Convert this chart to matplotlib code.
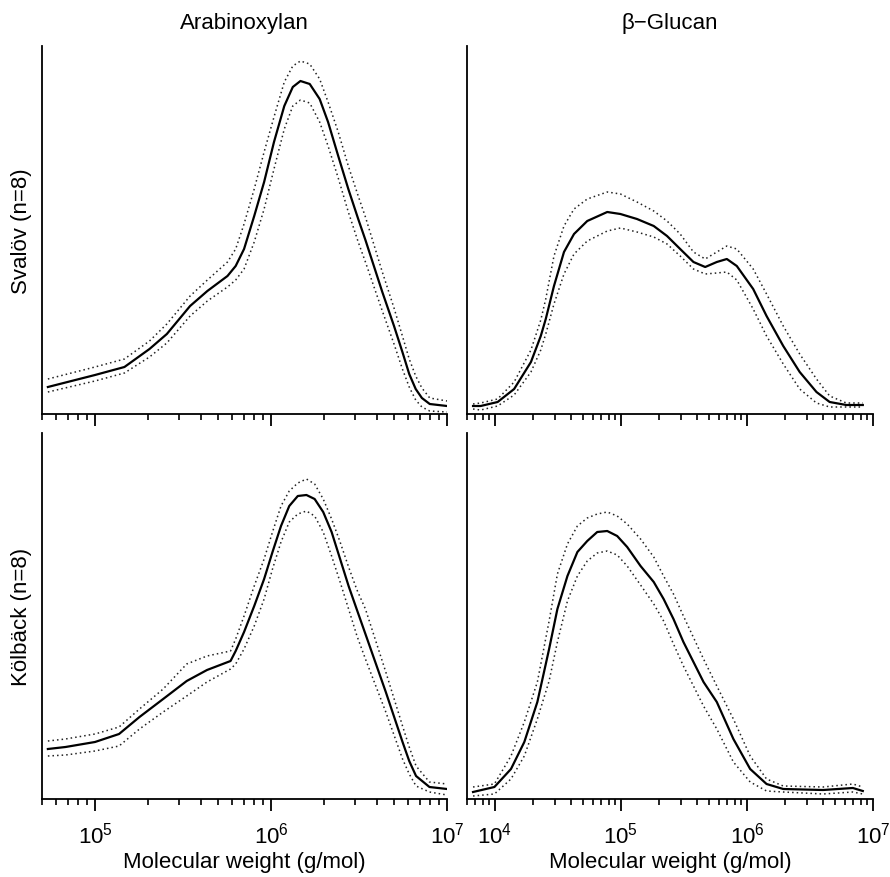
import matplotlib
matplotlib.use("Agg")
import matplotlib.pyplot as plt
import numpy as np
from matplotlib.ticker import LogLocator, LogFormatterSciNotation, NullFormatter

plt.rcParams['font.family'] = ['Liberation Sans', 'DejaVu Sans']
plt.rcParams['mathtext.default'] = 'regular'

# Arabinoxylan, Svalov: molecular weight (g/mol) and detector response (mean, mean+sd, mean-sd)
ax_sv_mw = [5.4e4, 1.0e5, 1.47e5, 2.04e5, 2.56e5, 3.47e5, 4.35e5, 5.66e5, 6.3e5, 7.03e5,
            8.03e5, 9.14e5, 1.04e6, 1.19e6, 1.33e6, 1.47e6, 1.66e6, 1.89e6, 2.11e6,
            2.41e6, 2.75e6, 3.13e6, 3.44e6, 4.29e6, 5.0e6, 5.58e6, 6.1e6, 6.64e6, 7.2e6,
            7.98e6, 1.0e7]
ax_sv_mean = [27, 39, 47, 65, 80, 108, 123, 138, 148, 165, 198, 232, 272, 308, 327, 333,
              330, 315, 292, 258, 225, 195, 174, 122, 88, 62, 40, 25, 16, 10, 8]
ax_sv_hi = [35, 47, 55, 73, 90, 118, 134, 152, 165, 190, 225, 262, 297, 332, 348, 353,
            350, 335, 312, 282, 248, 218, 197, 142, 106, 78, 55, 38, 26, 16, 13]
ax_sv_lo = [22, 33, 41, 57, 71, 98, 113, 127, 134, 145, 172, 205, 245, 285, 308, 314,
            311, 292, 268, 236, 202, 172, 152, 103, 70, 45, 27, 14, 7, 3, 2]

# Arabinoxylan, Kolback
ax_kb_mw = [5.4e4, 6.8e4, 1.0e5, 1.37e5, 1.79e5, 2.44e5, 3.32e5, 4.33e5, 5.89e5, 6.3e5,
            7.03e5, 8.03e5, 9.14e5, 1.02e6, 1.14e6, 1.27e6, 1.42e6, 1.59e6, 1.77e6,
            1.98e6, 2.21e6, 2.47e6, 2.76e6, 3.08e6, 3.44e6, 4.49e6, 5.59e6, 6.1e6,
            6.67e6, 7.95e6, 1.0e7]
ax_kb_mean = [50, 52, 57, 65, 82, 100, 118, 129, 138, 148, 167, 193, 220, 247, 273, 293,
              303, 304, 300, 287, 267, 240, 213, 189, 165, 107, 57, 38, 23, 12, 10]
ax_kb_hi = [58, 60, 65, 72, 90, 110, 135, 143, 148, 160, 183, 213, 240, 267, 293, 308,
            316, 320, 315, 300, 280, 257, 232, 209, 190, 127, 73, 52, 33, 17, 15]
ax_kb_lo = [43, 44, 48, 53, 70, 87, 103, 117, 130, 135, 150, 173, 200, 230, 257, 277,
            285, 288, 283, 267, 243, 217, 190, 163, 140, 87, 40, 25, 13, 7, 4]

# beta-Glucan, Svalov
bg_sv_mw = [6.7e3, 7.7e3, 1.05e4, 1.42e4, 1.93e4, 2.31e4, 2.53e4, 2.94e4, 3.53e4, 4.24e4,
            5.4e4, 7.78e4, 9.9e4, 1.34e5, 1.82e5, 2.32e5, 2.95e5, 3.76e5, 4.66e5, 5.76e5,
            6.92e5, 8.3e5, 1.12e6, 1.43e6, 1.94e6, 2.62e6, 3.56e6, 4.53e6, 6.14e6, 8.3e6]
bg_sv_mean = [8, 8, 12, 25, 52, 78, 95, 128, 162, 180, 193, 202, 200, 195, 188, 178, 165,
              152, 147, 152, 155, 148, 125, 98, 68, 42, 22, 12, 9, 9]
bg_sv_hi = [10, 11, 15, 32, 64, 94, 115, 158, 188, 205, 215, 222, 220, 212, 203, 193, 180,
            162, 155, 162, 168, 165, 145, 120, 88, 60, 35, 18, 11, 11]
bg_sv_lo = [5, 4, 8, 19, 42, 64, 80, 110, 140, 160, 173, 183, 186, 182, 177, 170, 158,
            145, 140, 141, 142, 134, 105, 78, 50, 25, 11, 7, 7, 7]

# beta-Glucan, Kolback
bg_kb_mw = [6.7e3, 9.9e3, 1.34e4, 1.71e4, 2.17e4, 2.69e4, 3.13e4, 3.76e4, 4.51e4, 5.4e4,
            6.48e4, 7.78e4, 9.33e4, 1.12e5, 1.43e5, 1.82e5, 2.18e5, 2.61e5, 3.13e5,
            4.52e5, 5.76e5, 7.8e5, 1.06e6, 1.43e6, 1.94e6, 4.01e6, 6.92e6, 8.3e6]
bg_kb_mean = [7, 12, 30, 57, 97, 150, 190, 223, 247, 258, 267, 268, 263, 252, 233, 217,
              200, 180, 157, 117, 97, 60, 30, 15, 10, 9, 11, 8]
bg_kb_hi = [12, 15, 43, 77, 117, 178, 225, 255, 273, 281, 285, 287, 283, 275, 260, 242,
            223, 205, 183, 140, 113, 80, 43, 20, 13, 12, 15, 12]
bg_kb_lo = [3, 5, 20, 43, 80, 118, 157, 198, 223, 238, 246, 248, 244, 233, 214, 195,
            178, 155, 133, 93, 70, 37, 17, 8, 7, 5, 7, 5]

col_titles = ["Arabinoxylan", "\u03b2\u2212Glucan"]
row_labels = ["Sval\u00f6v (n=8)", "K\u00f6lb\u00e4ck (n=8)"]
xlims = [(5e4, 1e7), (6e3, 1e7)]

panels = [
    [(ax_sv_mw, ax_sv_mean, ax_sv_hi, ax_sv_lo), (bg_sv_mw, bg_sv_mean, bg_sv_hi, bg_sv_lo)],
    [(ax_kb_mw, ax_kb_mean, ax_kb_hi, ax_kb_lo), (bg_kb_mw, bg_kb_mean, bg_kb_hi, bg_kb_lo)],
]

fig = plt.figure(figsize=(8.9, 8.78), dpi=100)
W, H = 890.0, 878.0
lefts = [42, 467]
widths = [405, 406]
bottoms = [415, 800]
heights = [368, 366]

for r in range(2):
    for c in range(2):
        ax = fig.add_axes([lefts[c] / W, 1 - bottoms[r] / H, widths[c] / W, heights[r] / H])
        mw, mean, hi, lo = panels[r][c]
        ax.plot(mw, hi, color='#222222', lw=1.1, ls=(0, (1, 2)))
        ax.plot(mw, lo, color='#222222', lw=1.1, ls=(0, (1, 2)))
        ax.plot(mw, mean, color='black', lw=1.6, solid_joinstyle='round')
        ax.set_xscale('log')
        ax.set_xlim(*xlims[c])
        ax.set_ylim(0, heights[r])
        ax.spines['top'].set_visible(False)
        ax.spines['right'].set_visible(False)
        ax.spines['left'].set_linewidth(1.3)
        ax.spines['bottom'].set_linewidth(1.3)
        ax.set_yticks([])
        ax.xaxis.set_major_locator(LogLocator(base=10, numticks=10))
        ax.xaxis.set_minor_locator(LogLocator(base=10, subs=np.arange(2, 10), numticks=20))
        ax.xaxis.set_minor_formatter(NullFormatter())
        ax.tick_params(axis='x', which='major', direction='out', length=8.5, width=1.3,
                       labelsize=16, pad=8)
        ax.tick_params(axis='x', which='minor', direction='out', length=4.5, width=1.2)
        if r == 0:
            ax.set_title(col_titles[c], fontsize=16, pad=13)
            ax.tick_params(axis='x', which='both', labelbottom=False)
        else:
            ax.xaxis.set_major_formatter(LogFormatterSciNotation())
            ax.set_xlabel("Molecular weight (g/mol)", fontsize=16, labelpad=2)
        if c == 0:
            ax.set_ylabel(row_labels[r], fontsize=16, labelpad=7)

fig.savefig("out.png", dpi=100)
